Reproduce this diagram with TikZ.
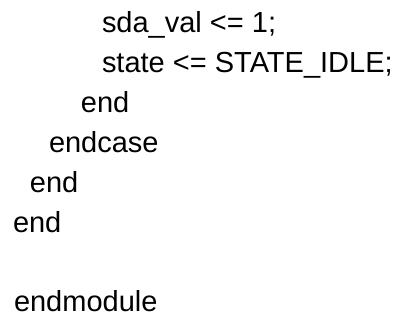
\documentclass[tikz,border=0pt]{standalone}
\usepackage{fontspec}
\setmainfont{Liberation Sans}
\begin{document}
\begin{tikzpicture}[x=1pt,y=1pt,
  codeline/.style={anchor=base west,inner sep=0pt,outer sep=0pt,
    font=\fontsize{29}{35}\selectfont,text=black}]
\fill[white] (0,0) rectangle (408,-322);
\useasboundingbox (0,0) rectangle (408,-322);
\node[codeline] (l1) at (102,-32)  {sda\_val <= 1;};
\node[codeline] (l2) at (102,-72)  {state <= STATE\_IDLE;};
\node[codeline] (l3) at (81,-112)  {end};
\node[codeline] (l4) at (49,-152)  {endcase};
\node[codeline] (l5) at (30,-192)  {end};
\node[codeline] (l6) at (13,-232)  {end};
\node[codeline] (l7) at (14,-311)  {endmodule};
\end{tikzpicture}
\end{document}
